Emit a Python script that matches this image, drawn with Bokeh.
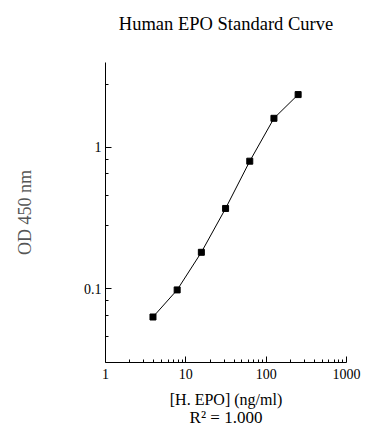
from bokeh.plotting import figure
from bokeh.models import FixedTicker, Title, ColumnDataSource
from bokeh.embed import file_html
from bokeh.resources import INLINE

# Data
conc = [3.9, 7.8, 15.6, 31.25, 62.5, 125, 250]
od = [0.063, 0.098, 0.181, 0.370, 0.80, 1.61, 2.37]
x_ticks = [1, 10, 100, 1000]
y_ticks = [0.1, 1]
y_minor = [0.0455, 0.065, 0.082, 0.28, 0.455, 0.65, 0.82, 2.8]
title_text = "Human EPO Standard Curve"
x_label = "[H. EPO] (ng/ml)"
y_label = "OD 450 nm"
r2_text = "R\u00b2 = 1.000"

FONT = "Liberation Serif"

p = figure(width=372, height=428, x_axis_type="log", y_axis_type="log",
           x_range=(1, 1000), y_range=(0.03, 4),
           output_backend="svg", toolbar_location=None,
           min_border_left=105, min_border_right=26, min_border_top=62,
           min_border_bottom=66)
p.outline_line_color = None
p.grid.grid_line_color = None
p.background_fill_color = "white"
p.border_fill_color = "white"

# trailing empty line keeps extra space between the title and the plot
p.title.text = title_text + "\n"
p.title.text_font = FONT
p.title.text_font_size = "18.5px"
p.title.text_font_style = "normal"
p.title.align = "center"
p.title.text_color = "black"
p.title.standoff = 18

src = ColumnDataSource(dict(x=conc, y=od))
p.line("x", "y", source=src, line_color="black", line_width=1)
p.scatter("x", "y", source=src, marker="square", size=6, color="black")

xa = p.xaxis[0]
xa.ticker = FixedTicker(ticks=x_ticks, minor_ticks=[a * m for a in [1, 10, 100] for m in range(2, 10)])
xa.major_label_overrides = {1: "1", 10: "10", 100: "100", 1000: "1000"}
ya = p.yaxis[0]
ya.ticker = FixedTicker(ticks=y_ticks, minor_ticks=y_minor)
ya.major_label_overrides = {0.1: "0.1", 1: "1"}

for ax in (xa, ya):
    ax.axis_line_color = "black"
    ax.major_tick_line_color = "black"
    ax.minor_tick_line_color = "black"
    ax.major_tick_in = 6
    ax.major_tick_out = 0
    ax.minor_tick_in = 3
    ax.minor_tick_out = 0
    ax.major_label_text_font = FONT
    ax.major_label_text_font_size = "14px"
    ax.major_label_text_color = "black"
    ax.axis_label_text_font = FONT
    ax.axis_label_text_font_style = "normal"

xa.axis_label = x_label
xa.axis_label_text_font_size = "16px"
xa.axis_label_text_color = "black"
xa.axis_label_standoff = 9
xa.major_label_standoff = 6

ya.axis_label = y_label
ya.axis_label_text_font_size = "18px"
ya.axis_label_text_color = "#555555"
ya.axis_label_standoff = 46
ya.major_label_standoff = 4

p.add_layout(Title(text=r2_text, align="center", text_font=FONT, text_font_size="17px",
                   text_font_style="normal", text_color="black", standoff=-10), "below")

open("out.html", "w").write(file_html(p, INLINE))
